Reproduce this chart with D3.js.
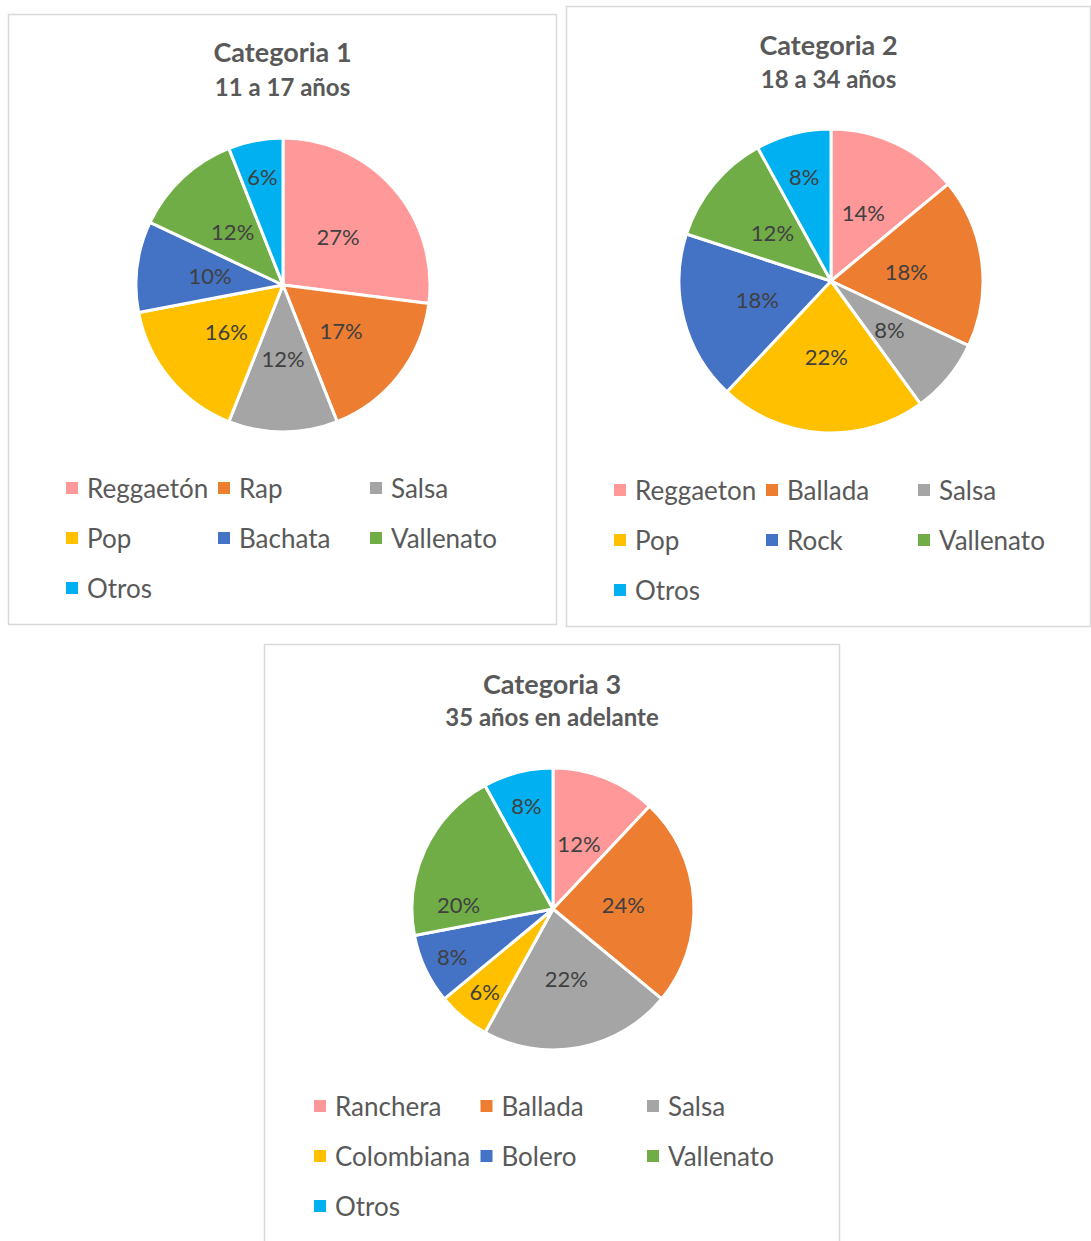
<!DOCTYPE html>
<html lang="es">
<meta charset="UTF-8">
<style>
    body{ margin:0; background:#fff; }
    text{ font-family: Lato, "Open Sans", sans-serif; fill:#595959; }
    text.title{ font-weight:bold; }
    text.pct{ fill:#404040; }
    .box{ fill:#fff; stroke:#d9d9d9; stroke-width:1.5; }
    .slice{ stroke:#fff; stroke-width:3; stroke-linejoin:round; }
</style>
<body>
<div id="chart"></div>
<script src="https://cdn.jsdelivr.net/npm/d3@7"></script>
<script>
    // data
    var colors = ["#FF9999", "#ED7D31", "#A5A5A5", "#FFC000", "#4472C4", "#70AD47", "#00B0F0"];

    var titles = ["Categoria 1", "Categoria 2", "Categoria 3"];
    var subtitles = ["11 a 17 años", "18 a 34 años", "35 años en adelante"];

    var genres1 = ["Reggaetón", "Rap", "Salsa", "Pop", "Bachata", "Vallenato", "Otros"];
    var values1 = [27, 17, 12, 16, 10, 12, 6];

    var genres2 = ["Reggaeton", "Ballada", "Salsa", "Pop", "Rock", "Vallenato", "Otros"];
    var values2 = [14, 18, 8, 22, 18, 12, 8];

    var genres3 = ["Ranchera", "Ballada", "Salsa", "Colombiana", "Bolero", "Vallenato", "Otros"];
    var values3 = [12, 24, 22, 6, 8, 20, 8];

    var width = 1091, height = 1241;

    var svg = d3.select("#chart").append("svg")
        .attr("width", width)
        .attr("height", height);

    // layout of each panel (where Excel put things)
    var panels = [
        {box:[8.5, 14.5, 548, 610], cx:283, cy:285, r:147, titleY:62, subY:96,
         legX:66, legY:488, colW:152, labelR:[.5,.5,.5,.5,.5,.5,.75], labelA:[.5,.5,.5,.5,.5,.5,.5]},
        {box:[566.5, 6.5, 524, 620], cx:831, cy:281, r:152, titleY:55, subY:88,
         legX:614, legY:490, colW:152, labelR:[.5,.5,.5,.5,.5,.5,.71], labelA:[.5,.5,.5,.5,.5,.5,.5]},
        {box:[264.5, 644.5, 575, 610], cx:553, cy:909, r:141, titleY:694, subY:726,
         legX:314, legY:1106, colW:166.5, labelR:[.5,.5,.5,.76,.79,.67,.76], labelA:[.5,.5,.5,.5,.5,.19,.5]}
    ];

    var allGenres = [genres1, genres2, genres3];
    var allValues = [values1, values2, values3];

    var pie = d3.pie().sort(null).value(function(d){ return d; });

    panels.forEach(function(p, k){
        var g = svg.append("g");

        g.append("rect")
            .attr("class", "box")
            .attr("x", p.box[0]).attr("y", p.box[1])
            .attr("width", p.box[2]).attr("height", p.box[3]);

        var mid = p.box[0] + p.box[2] / 2;

        g.append("text")
            .attr("class", "title")
            .attr("x", mid).attr("y", p.titleY)
            .attr("text-anchor", "middle")
            .style("font-size", "27px")
            .text(titles[k]);

        g.append("text")
            .attr("class", "title")
            .attr("x", mid).attr("y", p.subY)
            .attr("text-anchor", "middle")
            .style("font-size", "24px")
            .text(subtitles[k]);

        var arcs = pie(allValues[k]);
        var arc = d3.arc().innerRadius(0).outerRadius(p.r);

        var pg = g.append("g")
            .attr("transform", "translate(" + p.cx + "," + p.cy + ")");

        pg.selectAll("path")
            .data(arcs)
            .enter().append("path")
            .attr("class", "slice")
            .attr("d", arc)
            .style("fill", function(d, i){ return colors[i]; });

        pg.selectAll("text")
            .data(arcs)
            .enter().append("text")
            .attr("class", "pct")
            .attr("text-anchor", "middle")
            .attr("dominant-baseline", "central")
            .style("font-size", "22px")
            .attr("transform", function(d, i){
                var a = d.startAngle + (d.endAngle - d.startAngle) * p.labelA[i];
                var rr = p.r * p.labelR[i];
                return "translate(" + (Math.sin(a) * rr) + "," + (-Math.cos(a) * rr) + ")";
            })
            .text(function(d){ return d.data + "%"; });

        // legend, 3 columns
        var leg = g.selectAll("g.legend")
            .data(allGenres[k])
            .enter().append("g")
            .attr("class", "legend")
            .attr("transform", function(d, i){
                return "translate(" + (p.legX + (i % 3) * p.colW) + "," + (p.legY + Math.floor(i / 3) * 50) + ")";
            });

        leg.append("rect")
            .attr("x", 0).attr("y", -6)
            .attr("width", 12).attr("height", 12)
            .style("fill", function(d, i){ return colors[i]; });

        leg.append("text")
            .attr("x", 21).attr("y", 0)
            .attr("dominant-baseline", "central")
            .style("font-size", "26px")
            .text(function(d){ return d; });
    });
</script>
</body>
</html>
